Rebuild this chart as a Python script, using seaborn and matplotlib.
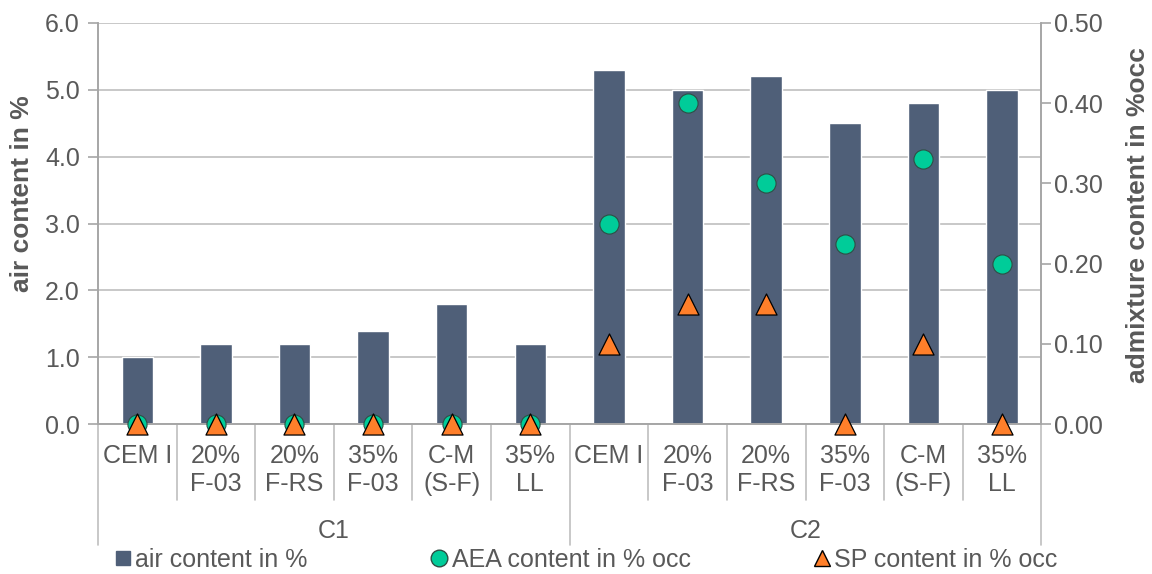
import pandas as pd
import matplotlib
matplotlib.use('Agg')
import matplotlib.pyplot as plt
import matplotlib.transforms as mtrans
from matplotlib.lines import Line2D
import seaborn as sns

# data
groups = ['C1', 'C2']
mixes = ['CEM I', '20%\nF-03', '20%\nF-RS', '35%\nF-03', 'C-M\n(S-F)', '35%\nLL']
air_c1 = [1.0, 1.2, 1.2, 1.4, 1.8, 1.2]
air_c2 = [5.3, 5.0, 5.2, 4.5, 4.8, 5.0]
aea_c1 = [0.0, 0.0, 0.0, 0.0, 0.0, 0.0]
aea_c2 = [0.25, 0.40, 0.30, 0.225, 0.33, 0.20]
sp_c1 = [0.0, 0.0, 0.0, 0.0, 0.0, 0.0]
sp_c2 = [0.10, 0.15, 0.15, 0.0, 0.10, 0.0]

df = pd.DataFrame({
    'group': [g for g in groups for _ in mixes],
    'mix': mixes * 2,
    'air': air_c1 + air_c2,
    'aea': aea_c1 + aea_c2,
    'sp': sp_c1 + sp_c2,
})
df['key'] = df['group'] + '|' + df['mix']
df['pos'] = range(len(df))

sns.set_style('white')
plt.rcParams['font.family'] = ['Liberation Sans', 'DejaVu Sans']
txt = '#595959'
bar_col = '#4F5F78'
aea_col = '#00CC99'
sp_col = '#FF7F2A'
fs = 18

fig = plt.figure(figsize=(11.52, 5.74), dpi=100)
ax = fig.add_axes([0.085, 0.261, 0.819, 0.699])

sns.barplot(data=df, x='key', y='air', order=list(df['key']), color=bar_col,
            width=0.4, saturation=1, ax=ax, zorder=2)
ax.set_xlim(-0.5, 11.5)
ax.set_ylim(0, 6)
ax.set_yticks([0, 1, 2, 3, 4, 5, 6])
ax.set_yticklabels([f'{v:.1f}' for v in range(7)])
ax.yaxis.grid(True, color='#BFBFBF', lw=1.2, zorder=0)
ax.set_axisbelow(True)
ax.set_ylabel('air content in %', fontsize=19, fontweight='bold', color=txt)
ax.yaxis.set_label_coords(-0.068, 0.575)
ax.set_xlabel('')

ax2 = ax.twinx()
sns.scatterplot(data=df, x='pos', y='aea', ax=ax2, marker='o', s=190, color=aea_col,
                edgecolor='#2E4F45', linewidth=0.8, clip_on=False, zorder=3, legend=False)
sns.scatterplot(data=df, x='pos', y='sp', ax=ax2, marker='^', s=230, color=sp_col,
                edgecolor='black', linewidth=0.9, clip_on=False, zorder=4, legend=False)
ax2.set_ylim(0, 0.5)
ax2.set_yticks([0, 0.1, 0.2, 0.3, 0.4, 0.5])
ax2.set_yticklabels([f'{v:.2f}' for v in [0, 0.1, 0.2, 0.3, 0.4, 0.5]])
ax2.set_ylabel('admixture content in %occ', fontsize=19, fontweight='bold', color=txt)
ax2.yaxis.set_label_coords(1.090, 0.52)
ax2.set_xlim(-0.5, 11.5)
ax2.set_xlabel('')

for a in (ax, ax2):
    for s in a.spines.values():
        s.set_color('#A6A6A6')
        s.set_linewidth(1.2)
    a.spines['top'].set_visible(False)
    a.tick_params(axis='y', labelsize=fs, colors=txt, length=7, width=1.2, color='#A6A6A6')
ax.tick_params(axis='y', pad=6)
ax2.tick_params(axis='y', pad=2)
ax2.spines['right'].set_visible(True)

# category labels
ax.set_xticks(df['pos'])
ax.set_xticklabels(df['mix'], fontsize=fs, color=txt, linespacing=1.25)
ax.tick_params(axis='x', length=0, pad=14)

trans = mtrans.blended_transform_factory(ax.transData, ax.transAxes)
for i in range(13):
    depth = -0.302 if i in (0, 6, 12) else -0.19
    ax.plot([i - 0.5, i - 0.5], [0, depth], transform=trans, color='#BFBFBF',
            lw=1.2, clip_on=False)
for gi, g in enumerate(groups):
    ax.text(gi * 6 + 2.5, -0.267, g, transform=trans, ha='center', va='center',
            fontsize=fs, color=txt)

handles = [
    Line2D([], [], marker='s', ls='none', color=bar_col, markersize=10),
    Line2D([], [], marker='o', ls='none', markerfacecolor=aea_col,
           markeredgecolor='#2E4F45', markersize=12),
    Line2D([], [], marker='^', ls='none', markerfacecolor=sp_col,
           markeredgecolor='black', markersize=12),
]
labels = ['air content in %', 'AEA content in % occ', 'SP content in % occ']
fig.legend(handles, labels, loc='center left', bbox_to_anchor=(0.098, 0.0244), ncol=3,
           frameon=False, fontsize=fs, labelcolor=txt, handletextpad=0.1,
           columnspacing=4.85, handlelength=0.8, borderpad=0, borderaxespad=0)

fig.savefig('out.png', dpi=100)
